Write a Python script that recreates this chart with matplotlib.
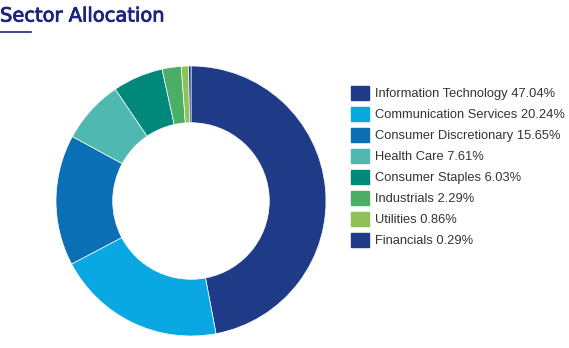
import matplotlib.pyplot as plt
import matplotlib.patheffects as pe
from matplotlib.patches import Patch

# Sector weights (%)
sectors = ['Information Technology', 'Communication Services', 'Consumer Discretionary',
           'Health Care', 'Consumer Staples', 'Industrials', 'Utilities', 'Financials']
weights = [47.04, 20.24, 15.65, 7.61, 6.03, 2.29, 0.86, 0.29]
colors = ['#1f3a86', '#0aa8e2', '#0a6fb5', '#4fb8b0', '#00897a', '#4cae66', '#8fc157', '#1f3a86']

W, H = 569, 348
fig = plt.figure(figsize=(W / 100, H / 100), dpi=100)

# title + short underline
fig.text(0, 1 - 16 / H, 'Sector Allocation', fontsize=14, color='#1a237e',
         va='center', ha='left', family='DejaVu Sans',
         path_effects=[pe.withStroke(linewidth=0.6, foreground='#1a237e')])
fig.add_artist(plt.Line2D([0, 31 / W], [1 - 32 / H, 1 - 32 / H], color='#1a237e', lw=1.2))

# donut
cx, cy, r = 191, 147, 135
ax = fig.add_axes([(cx - r) / W, (cy - r) / H, 2 * r / W, 2 * r / H])
wedges, _ = ax.pie(weights, colors=colors, startangle=90, counterclock=False,
                   radius=1, wedgeprops=dict(width=0.42, edgecolor='white', linewidth=0.5))
ax.set_xlim(-1, 1)
ax.set_ylim(-1, 1)
ax.set_aspect('equal')
ax.axis('off')

labels = [f'{s} {w:.2f}%' for s, w in zip(sectors, weights)]
handles = [Patch(facecolor=c, edgecolor=c) for c in colors]
fig.legend(handles, labels, loc='upper left', bbox_to_anchor=(351 / W, 1 - 86 / H),
           frameon=False, prop={'family': 'Liberation Sans', 'size': 9.3},
           labelcolor='#333333', handlelength=1.4, handleheight=1.25,
           handletextpad=0.45, labelspacing=0.53, borderpad=0, borderaxespad=0)

fig.savefig('out.png', dpi=100)
